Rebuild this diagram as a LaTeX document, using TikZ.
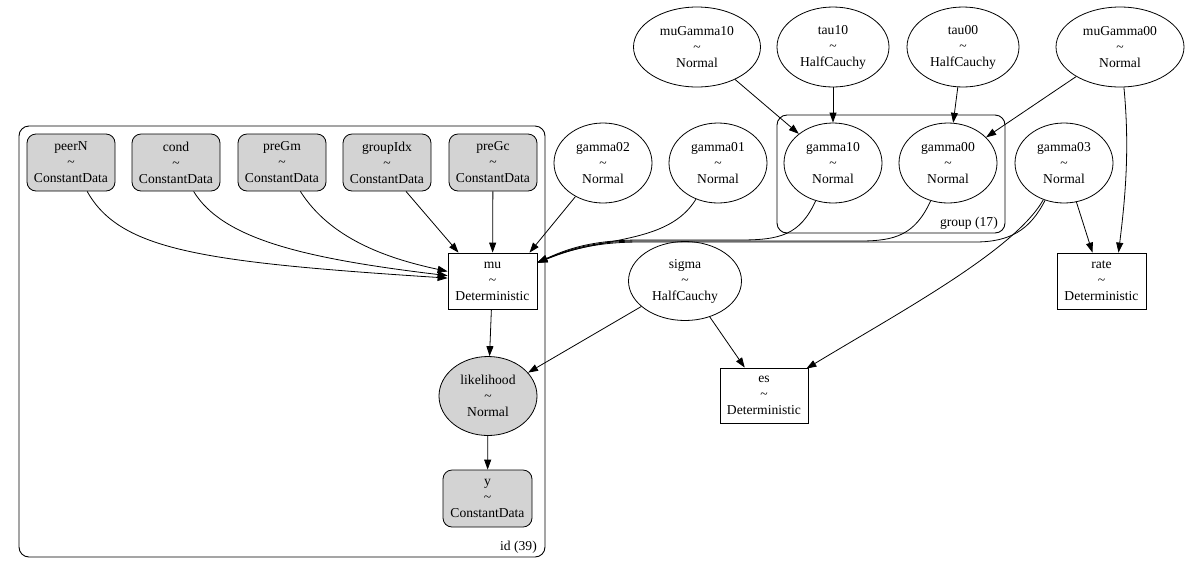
\documentclass[tikz,border=0pt]{standalone}
\usepackage{fontspec}
\setmainfont{Liberation Serif}
\usetikzlibrary{shapes.geometric,arrows.meta,calc}
\definecolor{lgray}{HTML}{D3D3D3}
\begin{document}
\begin{tikzpicture}[x=1pt,y=-1pt,
  font=\fontsize{13.6}{16}\selectfont,
  every node/.style={align=center, inner sep=0pt},
  cdata/.style={draw, line width=0.8pt, rounded corners=9pt, fill=lgray, minimum width=88pt, minimum height=57pt},
  detbox/.style={draw, line width=0.8pt, minimum width=89pt, minimum height=56pt},
  rv/.style={draw, line width=0.8pt, ellipse, minimum width=98pt, minimum height=80pt},
  obs/.style={rv, fill=lgray},
  plate/.style={draw, line width=0.9pt, rounded corners=10pt},
  arr/.style={-{Triangle[length=10pt,width=7pt]}, line width=0.8pt},
]
\useasboundingbox (0,0) rectangle (1200,566);

% plates
\draw[plate] (19,126) rectangle (545,557);
\node[anchor=east] (idlbl) at (537,547) {id (39)};
\draw[plate] (777,115) rectangle (1005,233);
\node[anchor=east] (grplbl) at (998,223) {group (17)};

% constant data
\node[cdata] (peerN) at (71,162.5) {peerN\\\textasciitilde\\ConstantData};
\node[cdata] (cond) at (176,162.5) {cond\\\textasciitilde\\ConstantData};
\node[cdata] (preGm) at (282,162.5) {preGm\\\textasciitilde\\ConstantData};
\node[cdata] (groupIdx) at (387,162.5) {groupIdx\\\textasciitilde\\ConstantData};
\node[cdata] (preGc) at (493,162.5) {preGc\\\textasciitilde\\ConstantData};

\node[detbox] (mu) at (492.5,281) {mu\\\textasciitilde\\Deterministic};
\node[obs, minimum height=79pt] (likelihood) at (488,396) {likelihood\\\textasciitilde\\Normal};
\node[cdata, minimum width=89pt] (y) at (487.5,498.5) {y\\\textasciitilde\\ConstantData};

% gamma row
\node[rv] (gamma02) at (603,163) {gamma02\\\textasciitilde\\Normal};
\node[rv] (gamma01) at (718,163) {gamma01\\\textasciitilde\\Normal};
\node[rv] (gamma10) at (833,163) {gamma10\\\textasciitilde\\Normal};
\node[rv] (gamma00) at (948,163) {gamma00\\\textasciitilde\\Normal};
\node[rv] (gamma03) at (1064,163) {gamma03\\\textasciitilde\\Normal};

% top row
\node[rv, minimum width=127pt] (muGamma10) at (697,47) {muGamma10\\\textasciitilde\\Normal};
\node[rv, minimum width=112pt] (tau10) at (833,47) {tau10\\\textasciitilde\\HalfCauchy};
\node[rv, minimum width=112pt] (tau00) at (963,47) {tau00\\\textasciitilde\\HalfCauchy};
\node[rv, minimum width=128pt] (muGamma00) at (1120,47) {muGamma00\\\textasciitilde\\Normal};

\node[rv, minimum width=113pt, minimum height=79pt] (sigma) at (685,281) {sigma\\\textasciitilde\\HalfCauchy};
\node[detbox, minimum width=88pt, minimum height=55pt] (es) at (764,395.5) {es\\\textasciitilde\\Deterministic};
\node[detbox] (rate) at (1101.5,281) {rate\\\textasciitilde\\Deterministic};

% edges into mu from the left
\draw[arr] (peerN) .. controls (120,250) and (200,262) .. (mu);
\draw[arr] (cond) .. controls (222,238) and (300,258) .. (mu);
\draw[arr] (preGm) .. controls (330,238) and (385,258) .. (mu);
\draw[arr] ([xshift=19pt]groupIdx.south) -- ([xshift=-34pt]mu.north);
\draw[arr] (preGc) -- (mu);
\draw[arr] (gamma02) -- ([xshift=37pt]mu.north);

% edges into mu from the right
\draw[arr] (gamma01) .. controls (668,245) and (600,236) .. ($(mu.north east)+(0,10)$);
\draw[arr] (gamma10) .. controls (800,235) and (780,240) .. (740,240) -- (640,240) .. controls (590,240) and (565,250) .. ($(mu.north east)+(0,10)$);
\draw[arr] (gamma00) .. controls (915,235) and (895,241) .. (860,241) -- (640,241) .. controls (590,241) and (565,251) .. ($(mu.north east)+(0,10)$);
\draw[arr] (gamma03) .. controls (1030,230) and (1010,242) .. (975,242) -- (640,242) .. controls (590,242) and (565,252) .. ($(mu.north east)+(0,10)$);

% other edges
\draw[arr] (mu) -- (likelihood);
\draw[arr] (likelihood) -- (y);
\draw[arr] (sigma) -- (likelihood);
\draw[arr] (sigma) -- (es);
\draw[arr] (gamma03) .. controls (1015,250) and (900,312) .. ($(es.north east)+(-2,1)$);
\draw[arr] (gamma03) -- (rate);
\draw[arr] (muGamma00) .. controls (1130,150) and (1125,200) .. ([xshift=17pt]rate.north);

\draw[arr] (muGamma10) -- (gamma10);
\draw[arr] (tau10) -- (gamma10);
\draw[arr] (tau00) -- (gamma00);
\draw[arr] (muGamma00) -- (gamma00);
\end{tikzpicture}
\end{document}
